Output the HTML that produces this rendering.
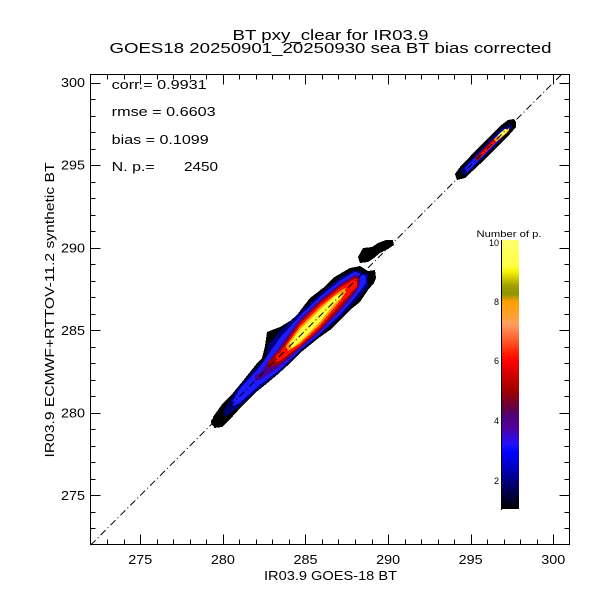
<!DOCTYPE html>
<html><head><meta charset="utf-8"><style>
html,body{margin:0;padding:0;background:#fff;}
svg{display:block;}
text{font-family:"Liberation Sans",sans-serif;fill:#000;}
</style></head><body>
<svg width="600" height="600" viewBox="0 0 600 600" xmlns="http://www.w3.org/2000/svg">
<defs>
<linearGradient id="cb" x1="0" y1="0" x2="0" y2="1">
<stop offset="0" stop-color="#ffff70"/>
<stop offset="0.10" stop-color="#ffff40"/>
<stop offset="0.12" stop-color="#f5f000"/>
<stop offset="0.17" stop-color="#a0a000"/>
<stop offset="0.20" stop-color="#8c9600"/>
<stop offset="0.23" stop-color="#ffa000"/>
<stop offset="0.28" stop-color="#ffa030"/>
<stop offset="0.31" stop-color="#ffa060"/>
<stop offset="0.37" stop-color="#ff6030"/>
<stop offset="0.42" stop-color="#ff2000"/>
<stop offset="0.45" stop-color="#ff0000"/>
<stop offset="0.52" stop-color="#c00000"/>
<stop offset="0.56" stop-color="#a00000"/>
<stop offset="0.61" stop-color="#700030"/>
<stop offset="0.65" stop-color="#500070"/>
<stop offset="0.70" stop-color="#5000a0"/>
<stop offset="0.76" stop-color="#2010ff"/>
<stop offset="0.79" stop-color="#0000ff"/>
<stop offset="0.86" stop-color="#0000b0"/>
<stop offset="0.92" stop-color="#000060"/>
<stop offset="1" stop-color="#000000"/>
</linearGradient>
</defs>
<rect width="600" height="600" fill="#fff"/>

<!-- Titles -->
<text x="330.5" y="40" font-size="14.5" text-anchor="middle" textLength="196" lengthAdjust="spacingAndGlyphs">BT pxy_clear for IR03.9</text>
<text x="330.5" y="53" font-size="14.5" text-anchor="middle" textLength="442" lengthAdjust="spacingAndGlyphs">GOES18 20250901_20250930 sea BT bias corrected</text>

<!-- Density main cluster -->
<g shape-rendering="crispEdges">
<circle cx="216" cy="422" r="5" fill="#000"/>
<polygon fill="#000" points="213,417 218,410 223,403 233,393 242,382 250,372 258,362 262,358 265,346 267,332 272,330 280,327 290,321 297,315 303,307 310,298 323,288 333,278 343,272 350,268 360,266 368,271 375,270 376,278 374,283 368,290 360,302 350,310 340,320 330,330 320,337 310,345 300,353 287,366 277,375 265,385 255,393 243,405 233,416 222,427 214,428"/>
<polygon fill="#000" points="358,257 363,248 372,247 378,243 386,240 393,240 394,245 388,249 380,253 374,258 368,262 360,263"/>
<polygon fill="#00007a" points="224,410 240,385.7 260,363.7 266,357 268,345 280,330.7 300,312.7 320,293.7 340,277.7 355,269.7 368,274 368,287 355,301.7 340,317.7 320,335.2 300,351.7 280,371.7 260,387.7 240,405.7 225,417"/>
<polygon fill="#1c1cff" points="232,402 240,388.7 260,366.7 270,352 280,337.7 300,315.7 320,296.7 340,280.7 355,271.7 366,276 366,283 355,297.7 340,314.7 320,333.7 300,350.2 280,369.7 260,384.7 240,402.7 233,406"/>
<polygon fill="#4b0090" points="255,375 260,372.7 280,345.7 300,318.7 320,299.7 340,283.7 355,274.7 360,276 360,285 355,293.7 340,311.7 320,331.7 300,348.7 280,366.7 260,379.7 255,381"/>
<polygon fill="#a00000" points="268,362 280,349.7 300,321.7 320,301.7 340,285.7 355,276.7 358,278 358,286 355,290.7 340,308.7 320,329.7 300,347.2 280,363.7 268,368"/>
<polygon fill="#ff1000" points="276,355 280,352.7 300,323.7 320,303.7 340,287.7 355,278.7 357,279 357,287 355,288.7 340,304.7 320,327.7 300,345.7 280,360.7 276,362"/>
<polygon fill="#ffa000" points="286,346 300,326.7 320,306.7 340,290.7 346,288 346,292 340,300.7 320,324.7 300,343.7 288,351"/>
<polygon fill="#ffff40" points="290,343 300,329.7 320,309.7 335,296 342,293 342,297 335,303 320,321.7 300,341.7 292,348"/>

<!-- small cluster -->
<polygon fill="#000" points="455,174 460,167 480,146 500,126 508,120 514,119 516,122 516,127 510,134 500,144 480,164 465,178 457,180"/>
<polygon fill="#00007a" points="461,170 480,149.5 500,129.5 511,123 512,127 500,141 480,161 464,176"/>
<polygon fill="#1c1cff" points="465,168 480,152 500,132 510,126 510,129 500,139 480,159 467,173"/>
<polygon fill="#a00000" points="475,158 490,142 505,130 506,133 490,148 477,161"/>
<polygon fill="#ff1000" points="480,154 495,139 507,130 507,133 494,144 481,157"/>
<polygon fill="#ffa000" points="494,139 503,131 509,127 509,131 502,137 496,142"/>
<polygon fill="#ffff40" points="498,135 505,129 508,129 506,133 500,138"/>
</g>

<!-- diagonal -->
<line x1="90.7" y1="545" x2="561" y2="75" stroke="#000" stroke-width="1" stroke-dasharray="7,3,1,3"/>

<!-- frame -->
<rect x="90.5" y="74.5" width="479" height="470" fill="none" stroke="#000" stroke-width="1"/>

<!-- ticks -->
<path stroke="#000" stroke-width="1" fill="none" d="
M107.5,544.5V539.5 M124.5,544.5V539.5 M140.5,544.5V534.5 M157.5,544.5V539.5 M173.5,544.5V539.5 M190.5,544.5V539.5 M206.5,544.5V539.5 M223.5,544.5V534.5 M239.5,544.5V539.5 M256.5,544.5V539.5 M272.5,544.5V539.5 M289.5,544.5V539.5 M305.5,544.5V534.5 M322.5,544.5V539.5 M338.5,544.5V539.5 M355.5,544.5V539.5 M372.5,544.5V539.5 M388.5,544.5V534.5 M405.5,544.5V539.5 M421.5,544.5V539.5 M438.5,544.5V539.5 M454.5,544.5V539.5 M471.5,544.5V534.5 M487.5,544.5V539.5 M504.5,544.5V539.5 M520.5,544.5V539.5 M537.5,544.5V539.5 M553.5,544.5V534.5
M107.5,74.5V79.5 M124.5,74.5V79.5 M140.5,74.5V84.5 M157.5,74.5V79.5 M173.5,74.5V79.5 M190.5,74.5V79.5 M206.5,74.5V79.5 M223.5,74.5V84.5 M239.5,74.5V79.5 M256.5,74.5V79.5 M272.5,74.5V79.5 M289.5,74.5V79.5 M305.5,74.5V84.5 M322.5,74.5V79.5 M338.5,74.5V79.5 M355.5,74.5V79.5 M372.5,74.5V79.5 M388.5,74.5V84.5 M405.5,74.5V79.5 M421.5,74.5V79.5 M438.5,74.5V79.5 M454.5,74.5V79.5 M471.5,74.5V84.5 M487.5,74.5V79.5 M504.5,74.5V79.5 M520.5,74.5V79.5 M537.5,74.5V79.5 M553.5,74.5V84.5
M90.5,528.5H95.5 M90.5,512.5H95.5 M90.5,495.5H100.5 M90.5,479.5H95.5 M90.5,462.5H95.5 M90.5,446.5H95.5 M90.5,429.5H95.5 M90.5,413.5H100.5 M90.5,396.5H95.5 M90.5,380.5H95.5 M90.5,363.5H95.5 M90.5,347.5H95.5 M90.5,330.5H100.5 M90.5,314.5H95.5 M90.5,297.5H95.5 M90.5,281.5H95.5 M90.5,264.5H95.5 M90.5,248.5H100.5 M90.5,231.5H95.5 M90.5,215.5H95.5 M90.5,198.5H95.5 M90.5,182.5H95.5 M90.5,165.5H100.5 M90.5,149.5H95.5 M90.5,132.5H95.5 M90.5,116.5H95.5 M90.5,99.5H95.5 M90.5,83.5H100.5
M569.5,528.5H564.5 M569.5,512.5H564.5 M569.5,495.5H559.5 M569.5,479.5H564.5 M569.5,462.5H564.5 M569.5,446.5H564.5 M569.5,429.5H564.5 M569.5,413.5H559.5 M569.5,396.5H564.5 M569.5,380.5H564.5 M569.5,363.5H564.5 M569.5,347.5H564.5 M569.5,330.5H559.5 M569.5,314.5H564.5 M569.5,297.5H564.5 M569.5,281.5H564.5 M569.5,264.5H564.5 M569.5,248.5H559.5 M569.5,231.5H564.5 M569.5,215.5H564.5 M569.5,198.5H564.5 M569.5,182.5H564.5 M569.5,165.5H559.5 M569.5,149.5H564.5 M569.5,132.5H564.5 M569.5,116.5H564.5 M569.5,99.5H564.5 M569.5,83.5H559.5"/>

<!-- x tick labels -->
<g font-size="12.5" text-anchor="middle">
<text x="140.3" y="564" textLength="24" lengthAdjust="spacingAndGlyphs">275</text>
<text x="222.9" y="564" textLength="24" lengthAdjust="spacingAndGlyphs">280</text>
<text x="305.5" y="564" textLength="24" lengthAdjust="spacingAndGlyphs">285</text>
<text x="388.1" y="564" textLength="24" lengthAdjust="spacingAndGlyphs">290</text>
<text x="470.7" y="564" textLength="24" lengthAdjust="spacingAndGlyphs">295</text>
<text x="553.3" y="564" textLength="24" lengthAdjust="spacingAndGlyphs">300</text>
</g>
<!-- y tick labels -->
<g font-size="12.5" text-anchor="end">
<text x="85" y="500" textLength="24" lengthAdjust="spacingAndGlyphs">275</text>
<text x="85" y="417.5" textLength="24" lengthAdjust="spacingAndGlyphs">280</text>
<text x="85" y="334.8" textLength="24" lengthAdjust="spacingAndGlyphs">285</text>
<text x="85" y="252.3" textLength="24" lengthAdjust="spacingAndGlyphs">290</text>
<text x="85" y="169.7" textLength="24" lengthAdjust="spacingAndGlyphs">295</text>
<text x="85" y="87.2" textLength="24" lengthAdjust="spacingAndGlyphs">300</text>
</g>

<!-- axis titles -->
<text x="330.5" y="580" font-size="12.5" text-anchor="middle" textLength="133" lengthAdjust="spacingAndGlyphs">IR03.9 GOES-18 BT</text>
<text transform="translate(54,310) rotate(-90)" x="0" y="0" font-size="12.5" text-anchor="middle" textLength="295" lengthAdjust="spacingAndGlyphs">IR03.9 ECMWF+RTTOV-11.2 synthetic BT</text>

<!-- stats -->
<g font-size="12.5">
<text x="111.7" y="89" textLength="95" lengthAdjust="spacingAndGlyphs">corr.= 0.9931</text>
<text x="111.7" y="116" textLength="104" lengthAdjust="spacingAndGlyphs">rmse = 0.6603</text>
<text x="111.7" y="144" textLength="97" lengthAdjust="spacingAndGlyphs">bias = 0.1099</text>
<text x="111.7" y="171" textLength="43" lengthAdjust="spacingAndGlyphs">N. p.=</text>
<text x="218" y="171" text-anchor="end" textLength="34" lengthAdjust="spacingAndGlyphs">2450</text>
</g>

<!-- colorbar -->
<rect x="501" y="240" width="18" height="269" fill="url(#cb)"/>
<line x1="501.5" y1="240" x2="501.5" y2="510" stroke="#000" stroke-width="1"/>
<text x="509" y="237" font-size="9.5" text-anchor="middle" textLength="65" lengthAdjust="spacingAndGlyphs">Number of p.</text>
<g font-size="9" text-anchor="end">
<text x="499" y="246">10</text>
<text x="499" y="305">8</text>
<text x="499" y="364">6</text>
<text x="499" y="424">4</text>
<text x="499" y="484">2</text>
</g>
</svg>
</body></html>
